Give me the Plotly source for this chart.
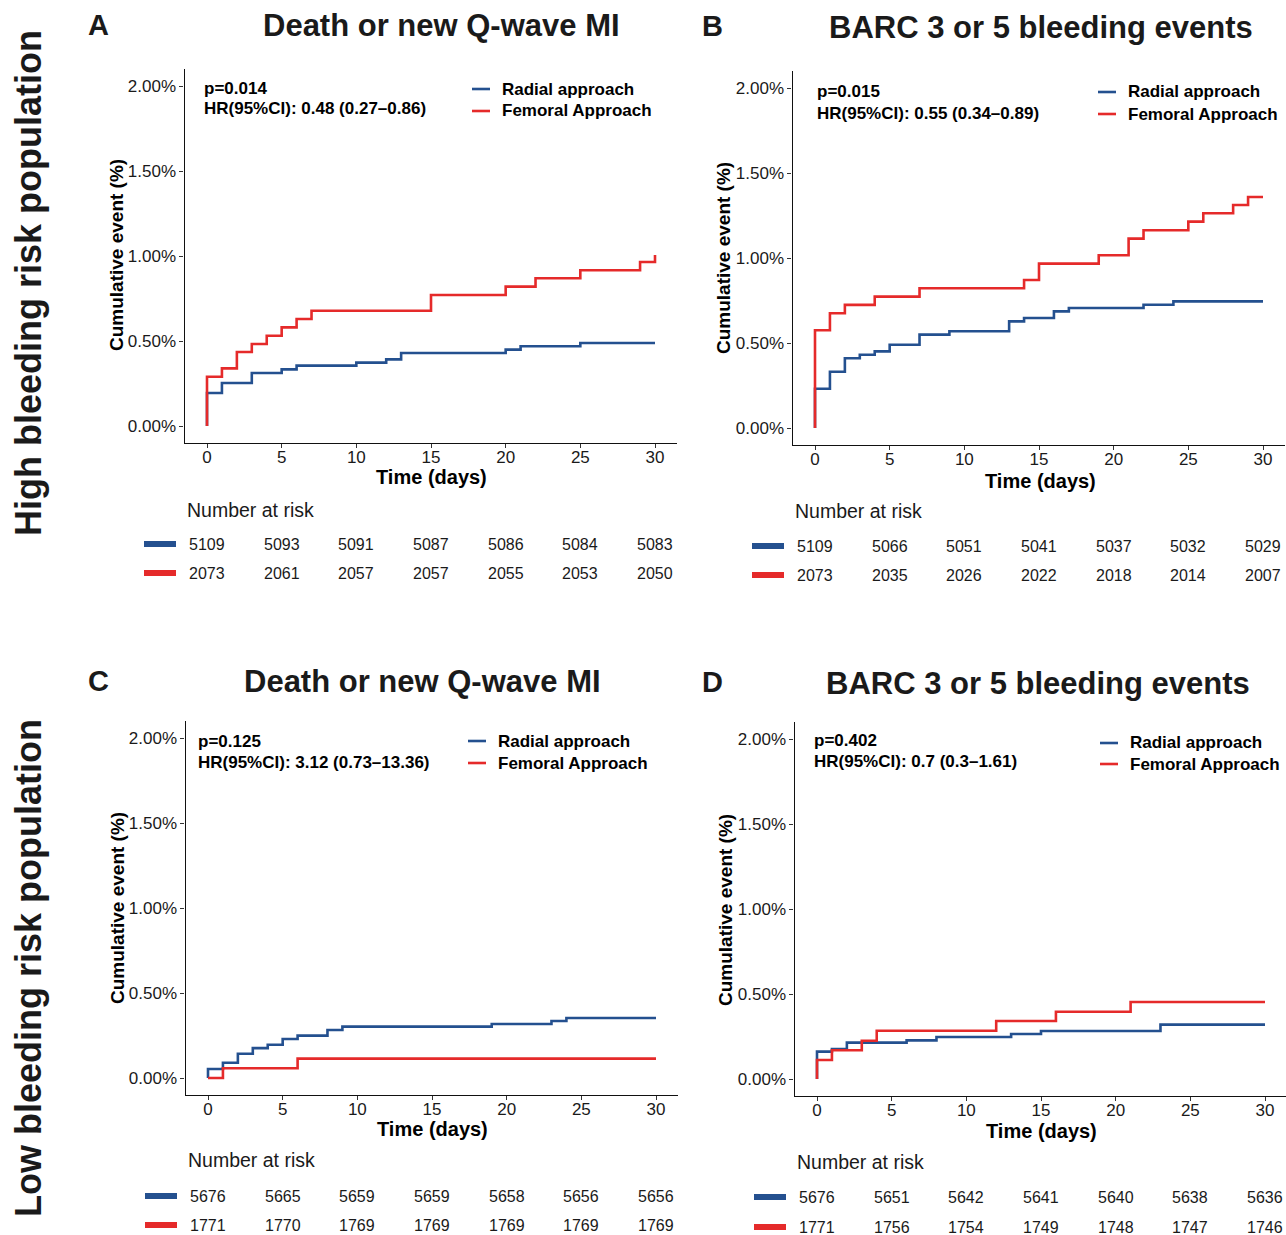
import plotly.graph_objects as go

# ---------------- data ----------------
risk_times = [0, 5, 10, 15, 20, 25, 30]
x_ticks = [0, 5, 10, 15, 20, 25, 30]
y_ticks = [0, 0.5, 1.0, 1.5, 2.0]
y_ticklabels = ["0.00%", "0.50%", "1.00%", "1.50%", "2.00%"]
series_names = ["Radial approach", "Femoral Approach"]

titles = ["Death or new Q-wave MI", "BARC 3 or 5 bleeding events",
          "Death or new Q-wave MI", "BARC 3 or 5 bleeding events"]
panel_letters = ["A", "B", "C", "D"]
p_texts = ["p=0.014", "p=0.015", "p=0.125", "p=0.402"]
hr_texts = ["HR(95%CI): 0.48 (0.27\u20130.86)", "HR(95%CI): 0.55 (0.34\u20130.89)",
            "HR(95%CI): 3.12 (0.73\u201313.36)", "HR(95%CI): 0.7 (0.3\u20131.61)"]
row_labels = ["High bleeding risk population", "Low bleeding risk population"]

A_rad_t = [0, 0, 1, 3, 5, 6, 10, 12, 13, 20, 21, 25, 30]
A_rad_y = [0, 0.194, 0.253, 0.312, 0.333, 0.355, 0.373, 0.392, 0.429, 0.449, 0.469, 0.488, 0.488]
A_fem_t = [0, 0, 1, 2, 3, 4, 5, 6, 7, 15, 20, 22, 25, 29, 30]
A_fem_y = [0, 0.290, 0.339, 0.435, 0.482, 0.531, 0.580, 0.629, 0.678, 0.771, 0.820, 0.869, 0.916, 0.965, 1.006]

B_rad_t = [0, 0, 1, 2, 3, 4, 5, 7, 9, 13, 14, 16, 17, 22, 24, 30]
B_rad_y = [0, 0.231, 0.331, 0.410, 0.431, 0.451, 0.490, 0.549, 0.569, 0.627, 0.647, 0.686, 0.706, 0.725, 0.745, 0.745]
B_fem_t = [0, 0, 1, 2, 4, 7, 14, 15, 19, 21, 22, 25, 26, 28, 29, 30]
B_fem_y = [0, 0.575, 0.675, 0.724, 0.773, 0.822, 0.871, 0.967, 1.016, 1.114, 1.163, 1.214, 1.263, 1.312, 1.359, 1.359]

C_rad_t = [0, 0, 1, 2, 3, 4, 5, 6, 8, 9, 19, 23, 24, 30]
C_rad_y = [0, 0.053, 0.090, 0.143, 0.176, 0.196, 0.229, 0.249, 0.282, 0.302, 0.318, 0.335, 0.353, 0.353]
C_fem_t = [0, 1, 6, 30]
C_fem_y = [0, 0.057, 0.114, 0.114]

D_rad_t = [0, 0, 1, 2, 6, 8, 13, 15, 23, 30]
D_rad_y = [0, 0.161, 0.176, 0.214, 0.227, 0.247, 0.265, 0.282, 0.320, 0.320]
D_fem_t = [0, 0, 1, 3, 4, 12, 16, 21, 30]
D_fem_y = [0, 0.112, 0.169, 0.225, 0.284, 0.341, 0.396, 0.453, 0.453]

A_risk_rad = [5109, 5093, 5091, 5087, 5086, 5084, 5083]
A_risk_fem = [2073, 2061, 2057, 2057, 2055, 2053, 2050]
B_risk_rad = [5109, 5066, 5051, 5041, 5037, 5032, 5029]
B_risk_fem = [2073, 2035, 2026, 2022, 2018, 2014, 2007]
C_risk_rad = [5676, 5665, 5659, 5659, 5658, 5656, 5656]
C_risk_fem = [1771, 1770, 1769, 1769, 1769, 1769, 1769]
D_risk_rad = [5676, 5651, 5642, 5641, 5640, 5638, 5636]
D_risk_fem = [1771, 1756, 1754, 1749, 1748, 1747, 1746]

# ---------------- styling / layout ----------------
W, H = 1286, 1235
BLUE = "#24508F"
RED = "#E52A2A"
FONT = "Liberation Sans, Arial, Helvetica, sans-serif"
TXT = "#1a1a1a"

def px(x):
    return x / W

def py(y):
    return 1 - y / H

# pixel geometry for each panel
geo = [
    dict(x0=207, y0=426, letter=(98, 25), title=(441.5, 26), p=(202, 88), hr=(202, 109),
         leg=(472, 89, 111), time=(431, 477), ytitle=(116, 255), nar=(185, 510), rows=(544, 573), bar=144),
    dict(x0=815, y0=428, letter=(712, 26), title=(1041, 27), p=(815, 92), hr=(815, 113),
         leg=(1098, 92, 114), time=(1040, 481), ytitle=(723, 258), nar=(793, 511), rows=(546, 575), bar=752),
    dict(x0=208, y0=1078, letter=(98, 681), title=(422.5, 682), p=(196, 741), hr=(196, 762),
         leg=(468, 741, 763), time=(432, 1129), ytitle=(117, 908), nar=(186, 1160), rows=(1196, 1225), bar=145),
    dict(x0=817, y0=1079, letter=(712, 682), title=(1037.5, 683), p=(812, 740), hr=(812, 761),
         leg=(1100, 743, 764), time=(1041, 1131), ytitle=(725, 910), nar=(795, 1162), rows=(1197, 1227), bar=754),
]
SX = 448 / 30.0   # px per day
SY = 170.0        # px per 1%

curves = [
    ((A_rad_t, A_rad_y), (A_fem_t, A_fem_y)),
    ((B_rad_t, B_rad_y), (B_fem_t, B_fem_y)),
    ((C_rad_t, C_rad_y), (C_fem_t, C_fem_y)),
    ((D_rad_t, D_rad_y), (D_fem_t, D_fem_y)),
]
risks = [
    (A_risk_rad, A_risk_fem), (B_risk_rad, B_risk_fem),
    (C_risk_rad, C_risk_fem), (D_risk_rad, D_risk_fem),
]
colors = [BLUE, RED]

fig = go.Figure()
annotations = []
shapes = []
layout_axes = {}

for i, g in enumerate(geo):
    n = "" if i == 0 else str(i + 1)
    xa, ya = "x" + n, "y" + n
    left_px = g["x0"] - 1.5 * SX
    right_px = min(g["x0"] + 31.5 * SX, W)
    top_px = g["y0"] - 2.1 * SY
    bot_px = g["y0"] + 0.1 * SY
    xr = [-1.5, (right_px - g["x0"]) / SX]

    layout_axes["xaxis" + n] = dict(
        domain=[px(left_px), px(right_px)], range=xr, anchor=ya,
        tickvals=x_ticks, ticks="outside", ticklen=4, tickwidth=1, tickcolor="#333",
        ticklabelstandoff=-6,
        showline=True, linecolor="#111", linewidth=1.3, showgrid=False, zeroline=False,
        tickfont=dict(family=FONT, size=17, color=TXT), fixedrange=True,
    )
    layout_axes["yaxis" + n] = dict(
        domain=[py(bot_px), py(top_px)], range=[-0.1, 2.1], anchor=xa,
        tickvals=y_ticks, ticktext=y_ticklabels, ticks="outside", ticklen=4, tickwidth=1,
        tickcolor="#333", showline=True, linecolor="#111", linewidth=1.3, showgrid=False,
        zeroline=False, tickfont=dict(family=FONT, size=17, color=TXT), fixedrange=True,
    )

    for k, (t, yv) in enumerate(curves[i]):
        fig.add_trace(go.Scatter(
            x=t, y=yv, mode="lines", line=dict(color=colors[k], width=2.6, shape="hv"),
            xaxis=xa, yaxis=ya, showlegend=False, name=series_names[k],
        ))

    # panel letter & title
    annotations.append(dict(text="<b>%s</b>" % panel_letters[i], xref="paper", yref="paper",
                            x=px(g["letter"][0]), y=py(g["letter"][1]), xanchor="center", yanchor="middle",
                            showarrow=False, font=dict(family=FONT, size=29, color=TXT)))
    annotations.append(dict(text="<b>%s</b>" % titles[i], xref="paper", yref="paper",
                            x=px(g["title"][0]), y=py(g["title"][1]), xanchor="center", yanchor="middle",
                            showarrow=False, font=dict(family=FONT, size=31, color=TXT)))
    # p / HR
    for key, txt in (("p", p_texts[i]), ("hr", hr_texts[i])):
        annotations.append(dict(text="<b>%s</b>" % txt, xref="paper", yref="paper",
                                x=px(g[key][0]), y=py(g[key][1]), xanchor="left", yanchor="middle",
                                showarrow=False, font=dict(family=FONT, size=17, color="#000")))
    # legend
    lx, ly1, ly2 = g["leg"]
    for k, yy in enumerate((ly1, ly2)):
        shapes.append(dict(type="line", xref="paper", yref="paper", x0=px(lx), x1=px(lx + 18),
                           y0=py(yy), y1=py(yy), line=dict(color=colors[k], width=2.6)))
        annotations.append(dict(text="<b>%s</b>" % series_names[k], xref="paper", yref="paper",
                                x=px(lx + 28), y=py(yy), xanchor="left", yanchor="middle",
                                showarrow=False, font=dict(family=FONT, size=17, color="#000")))
    # axis titles
    annotations.append(dict(text="<b>Time (days)</b>", xref="paper", yref="paper",
                            x=px(g["time"][0]), y=py(g["time"][1]), xanchor="center", yanchor="middle",
                            showarrow=False, font=dict(family=FONT, size=20, color="#000")))
    annotations.append(dict(text="<b>Cumulative event (%)</b>", xref="paper", yref="paper",
                            x=px(g["ytitle"][0]), y=py(g["ytitle"][1]), xanchor="center", yanchor="middle",
                            textangle=-90, showarrow=False, font=dict(family=FONT, size=19, color="#000")))
    # number at risk
    annotations.append(dict(text="Number at risk", xref="paper", yref="paper",
                            x=px(g["nar"][0]), y=py(g["nar"][1]), xanchor="left", yanchor="middle",
                            showarrow=False, font=dict(family=FONT, size=19.5, color=TXT)))
    for k, row_y in enumerate(g["rows"]):
        shapes.append(dict(type="line", xref="paper", yref="paper", x0=px(g["bar"]), x1=px(g["bar"] + 32),
                           y0=py(row_y), y1=py(row_y), line=dict(color=colors[k], width=6)))
        for t, v in zip(risk_times, risks[i][k]):
            annotations.append(dict(text=str(v), xref=xa, yref="paper", x=t, y=py(row_y),
                                    xanchor="center", yanchor="middle", showarrow=False,
                                    font=dict(family=FONT, size=16, color=TXT)))

# row labels
for label, yc in zip(row_labels, (283, 968)):
    annotations.append(dict(text="<b>%s</b>" % label, xref="paper", yref="paper",
                            x=px(28), y=py(yc), xanchor="center", yanchor="middle", textangle=-90,
                            showarrow=False, font=dict(family=FONT, size=36, color=TXT)))

fig.update_layout(
    width=W, height=H, margin=dict(l=0, r=0, t=0, b=0),
    paper_bgcolor="white", plot_bgcolor="white",
    showlegend=False, annotations=annotations, shapes=shapes,
    **layout_axes,
)

fig.write_html("out.html", include_plotlyjs=True, config={"displayModeBar": False},
               post_script="document.body.style.margin='0';document.body.style.padding='0';"
                           "document.body.style.overflow='hidden';")
